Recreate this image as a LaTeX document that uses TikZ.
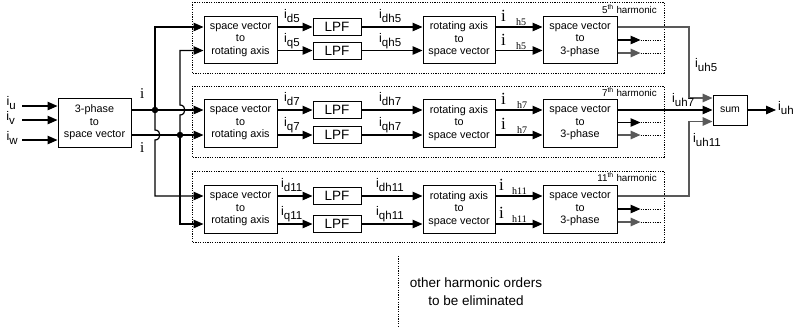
\documentclass[tikz,border=0pt]{standalone}
\usepackage{fontspec}
\setmainfont{Liberation Sans}
\newfontfamily\romi{Liberation Serif}
\usetikzlibrary{arrows.meta}
\newcommand{\cur}[1]{i\raisebox{-4.5pt}{\fontsize{11.5}{11.5}\selectfont #1}}
\tikzset{
	blk/.style={draw, line width=1pt, align=center, inner sep=0pt, minimum height=47pt, font=\fontsize{10.8}{12.5}\selectfont},
	lpf/.style={draw, line width=1pt, inner sep=0pt, minimum width=48pt, minimum height=17pt, font=\fontsize{13.5}{13.5}\selectfont},
	sig/.style={line width=1.2pt, -{Triangle[length=10pt,width=8.5pt]}},
	gsig/.style={sig, line width=1.6pt, draw=black!65},
	lbl/.style={inner sep=0pt, anchor=base west, font=\fontsize{12.5}{12.5}\selectfont},
	rlbl/.style={inner sep=0pt, anchor=base west, font=\romi\fontsize{17}{17}\selectfont},
	hlbl/.style={inner sep=0pt, anchor=base west, font=\romi\fontsize{10}{10}\selectfont},
	grp/.style={line width=0.9pt, dash pattern=on 1.2pt off 1.2pt},
	junc/.style={circle, fill, inner sep=0pt, minimum size=6.5pt},
	note/.style={inner sep=0pt, anchor=base east, font=\fontsize{9.8}{9.8}\selectfont},
}

\begin{document}
\begin{tikzpicture}[x=1pt,y=-1pt]
	\useasboundingbox (0,0) rectangle (793,330);

	\draw[grp] (192,2) rectangle (664,73);
	\draw[grp] (192,86) rectangle (664,157);
	\draw[grp] (192,171) rectangle (664,242);
	\node[note] (n5) at (657,13) {5\textsuperscript{th} harmonic};
	\node[note] (n7) at (657,96) {7\textsuperscript{th} harmonic};
	\node[note] (n11) at (657,181) {11\textsuperscript{th} harmonic};
	\draw[grp] (398,256) -- (398,326);
	\node[font=\fontsize{13.5}{18}\selectfont, align=center] (oth) at (476,292) {other harmonic orders\\to be eliminated};

	% row heights
	\coordinate (d5) at (0,27);
	\coordinate (q5) at (0,50.5);
	\coordinate (d7) at (0,110);
	\coordinate (q7) at (0,135);
	\coordinate (d11) at (0,196);
	\coordinate (q11) at (0,224);

	% 3-phase to space vector
	\node[blk, minimum width=73pt, minimum height=49pt] (tp) at (94.5,122.5) {3-phase\\to\\space vector};
	\coordinate (cu) at (22,106);
	\coordinate (cv) at (22,120);
	\coordinate (cw) at (22,140);
	\node[lbl, anchor=base east] (lu) at (16,105) {\cur{u}};
	\node[lbl, anchor=base east] (lv) at (15,120) {\cur{v}};
	\node[lbl, anchor=base east] (lw) at (18,140) {\cur{w}};
	\draw[sig] (cu) -- (cu -| tp.west);
	\draw[sig] (cv) -- (cv -| tp.west);
	\draw[sig] (cw) -- (cw -| tp.west);
	\node[rlbl, font=\romi\fontsize{15}{15}\selectfont] (iup) at (140,98) {i};
	\node[rlbl, font=\romi\fontsize{15}{15}\selectfont] (ilo) at (140,152) {i};

	\node[blk, minimum width=73pt] (sv5) at (240.5,39.5) {space vector\\to\\rotating axis};
	\node[blk, minimum width=73pt, minimum height=48pt] (sv7) at (240.5,123) {space vector\\to\\rotating axis};
	\node[blk, minimum width=73pt, minimum height=48pt] (sv11) at (240.5,209) {space vector\\to\\rotating axis};

	\node[junc] (j1) at (155,110) {};
	\node[junc] (j2) at (180,135) {};
	\draw[sig] (tp.east |- d7) -- (sv7.west |- d7);
	\draw[sig] (tp.east |- q7) -- (sv7.west |- q7);
	\draw[sig] (j1.center) |- (sv5.west |- d5);
	\draw[sig] (j2.center) -- (180,115) .. controls (186.5,115) and (186.5,105) .. (180,105) |- (sv5.west |- q5);
	\draw[sig] (j1.center) -- (155,130) .. controls (161.5,130) and (161.5,140) .. (155,140) |- (sv11.west |- d11);
	\draw[sig] (j2.center) |- (sv11.west |- q11);

	% low pass filters
	\node[lpf] (ld5) at (337,27) {LPF};
	\node[lpf] (lq5) at (337,50.5) {LPF};
	\node[lpf] (ld7) at (337,110) {LPF};
	\node[lpf] (lq7) at (337,135) {LPF};
	\node[lpf] (ld11) at (337,196) {LPF};
	\node[lpf] (lq11) at (337,224) {LPF};
	\draw[sig] (sv5.east |- ld5) -- (ld5);
	\draw[sig] (sv5.east |- lq5) -- (lq5);
	\draw[sig] (sv7.east |- ld7) -- (ld7);
	\draw[sig] (sv7.east |- lq7) -- (lq7);
	\draw[sig] (sv11.east |- ld11) -- (ld11);
	\draw[sig] (sv11.east |- lq11) -- (lq11);
	\node[lbl] (td5) at (284,18) {\cur{d5}};
	\node[lbl] (tq5) at (284,42) {\cur{q5}};
	\node[lbl] (td7) at (284,101) {\cur{d7}};
	\node[lbl] (tq7) at (284,126) {\cur{q7}};
	\node[lbl] (td11) at (281,187) {\cur{d11}};
	\node[lbl] (tq11) at (281,215) {\cur{q11}};

	% rotating axis to space vector
	\node[blk, minimum width=72pt] (rs5) at (459,39.5) {rotating axis\\to\\space vector};
	\node[blk, minimum width=72pt, minimum height=48pt] (rs7) at (459,123) {rotating axis\\to\\space vector};
	\node[blk, minimum width=72pt, minimum height=48pt] (rs11) at (459,209) {rotating axis\\to\\space vector};
	\draw[sig] (ld5) -- (rs5.west |- ld5);
	\draw[sig] (lq5) -- (rs5.west |- lq5);
	\draw[sig] (ld7) -- (rs7.west |- ld7);
	\draw[sig] (lq7) -- (rs7.west |- lq7);
	\draw[sig] (ld11) -- (rs11.west |- ld11);
	\draw[sig] (lq11) -- (rs11.west |- lq11);
	\node[lbl] (tdh5) at (379,18) {\cur{dh5}};
	\node[lbl] (tqh5) at (379,42) {\cur{qh5}};
	\node[lbl] (tdh7) at (379,101) {\cur{dh7}};
	\node[lbl] (tqh7) at (379,126) {\cur{qh7}};
	\node[lbl] (tdh11) at (376,187) {\cur{dh11}};
	\node[lbl] (tqh11) at (376,215) {\cur{qh11}};

	% space vector to 3-phase
	\node[blk, minimum width=74pt] (ps5) at (580,39.5) {space vector\\to\\3-phase};
	\node[blk, minimum width=74pt, minimum height=48pt] (ps7) at (580,123) {space vector\\to\\3-phase};
	\node[blk, minimum width=74pt, minimum height=48pt] (ps11) at (580,209) {space vector\\to\\3-phase};
	\draw[sig] (rs5.east |- d5) -- (ps5.west |- d5);
	\draw[sig] (rs5.east |- q5) -- (ps5.west |- q5);
	\draw[sig] (rs7.east |- d7) -- (ps7.west |- d7);
	\draw[sig] (rs7.east |- q7) -- (ps7.west |- q7);
	\draw[sig] (rs11.east |- d11) -- (ps11.west |- d11);
	\draw[sig] (rs11.east |- q11) -- (ps11.west |- q11);
	\node[rlbl] (ia5) at (501,21) {i};
	\node[hlbl] (ha5) at (516,25) {h5};
	\node[rlbl] (ib5) at (501,45) {i};
	\node[hlbl] (hb5) at (516,49) {h5};
	\node[rlbl] (ia7) at (501,104) {i};
	\node[hlbl] (ha7) at (517,108) {h7};
	\node[rlbl] (ib7) at (501,129) {i};
	\node[hlbl] (hb7) at (517,133) {h7};
	\node[rlbl] (ia11) at (499,190) {i};
	\node[hlbl] (ha11) at (512,194) {h11};
	\node[rlbl] (ib11) at (499,218) {i};
	\node[hlbl] (hb11) at (512,222) {h11};

	% unused phases
	\draw[sig] (ps5.east |- 0,40) -- ++(23,0) coordinate (v5);
	\draw[gsig] (ps5.east |- 0,53) -- ++(23,0) coordinate (w5);
	\draw[sig] (ps7.east |- 0,122.5) -- ++(23,0) coordinate (v7);
	\draw[gsig] (ps7.east |- q7) -- ++(23,0) coordinate (w7);
	\draw[sig] (ps11.east |- 0,209) -- ++(23,0) coordinate (v11);
	\draw[gsig] (ps11.east |- 0,222) -- ++(23,0) coordinate (w11);
	\draw[grp] (v5) -- ++(21,0);
	\draw[grp] (w5) -- ++(21,0);
	\draw[grp] (v7) -- ++(21,0);
	\draw[grp] (w7) -- ++(21,0);
	\draw[grp] (v11) -- ++(21,0);
	\draw[grp] (w11) -- ++(21,0);

	% sum
	\node[blk, minimum width=34pt, minimum height=30pt, font=\fontsize{10.5}{11}\selectfont] (sum) at (730,110) {sum};
	\coordinate (s5) at (689,98);
	\coordinate (s11) at (689,121.5);
	\coordinate (uh) at (776,110);
	\draw[gsig] (ps5.east |- d5) -| (s5) -- (sum.west |- s5);
	\draw[sig] (ps7.east |- d7) -- (sum.west |- d7);
	\draw[gsig] (ps11.east |- d11) -| (s11) -- (sum.west |- s11);
	\draw[sig] (sum) -- (uh);
	\node[lbl] (tuh5) at (695,67) {\cur{uh5}};
	\node[lbl] (tuh7) at (672,102) {\cur{uh7}};
	\node[lbl] (tuh11) at (693,142) {\cur{uh11}};
	\node[lbl] (tuh) at (778,110) {\cur{uh}};
\end{tikzpicture}
\end{document}
